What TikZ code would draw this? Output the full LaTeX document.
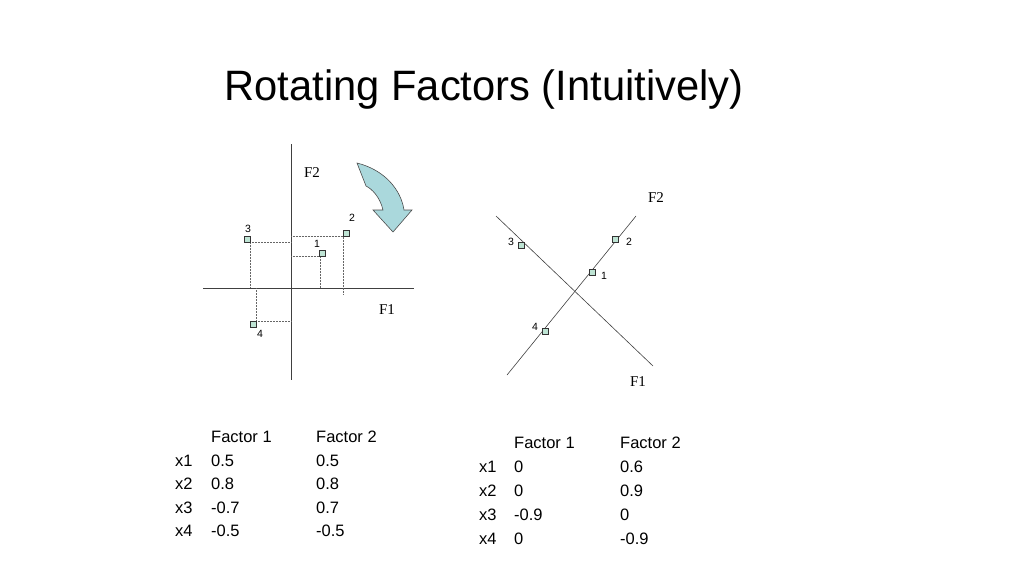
\documentclass[tikz,border=0pt]{standalone}
\usepackage{fontspec}
\setmainfont{Liberation Sans}
\newfontfamily\serf{Liberation Serif}
\definecolor{mint}{RGB}{190,228,212}
\definecolor{arrc}{RGB}{170,216,220}
\begin{document}
\begin{tikzpicture}[x=1pt,y=-1pt,
  pt/.style={draw=black!80,fill=mint,minimum size=6pt,inner sep=0pt,line width=0.6pt},
  ax/.style={draw=black!75,line width=0.8pt},
  dl/.style={draw=black!60,densely dotted,line width=0.5pt},
  num/.style={font=\fontsize{10.5}{12}\selectfont,inner sep=0pt},
  fl/.style={font=\serf\fontsize{15}{18}\selectfont,inner sep=0pt},
  tb/.style={font=\fontsize{16.5}{20}\selectfont,anchor=west,inner sep=0pt}]
\useasboundingbox (0,0) rectangle (1024,576);
\node[font=\fontsize{42.5}{50}\selectfont,inner sep=0pt,xscale=0.98] (title) at (484,90) {Rotating Factors (Intuitively)};
% left plot
\coordinate (vt) at (291,144); \coordinate (vb) at (291,380);
\coordinate (hl) at (203,288); \coordinate (hr) at (414,288);
\draw[ax] (vt)--(vb); \draw[ax] (hl)--(hr);
\coordinate (o1a) at (291,256); \coordinate (o1b) at (320,288);
\coordinate (o2a) at (291,236); \coordinate (o2b) at (343,294);
\coordinate (o3a) at (291,242); \coordinate (o3b) at (250,288);
\coordinate (o4a) at (291,321); \coordinate (o4b) at (256,288);
\draw[dl] (o1a)--(320,256)--(o1b);
\draw[dl] (o2a)--(343,236)--(o2b);
\draw[dl] (o3a)--(250,242)--(o3b);
\draw[dl] (o4a)--(256,321)--(o4b);
\node[pt] (p1) at (322,253) {}; \node[pt] (p2) at (346,233) {};
\node[pt] (p3) at (247,239) {}; \node[pt] (p4) at (253,324) {};
\node[num] (l1) at (317,244) {1}; \node[num] (l2) at (352,218) {2};
\node[num] (l3) at (248,229) {3}; \node[num] (l4) at (260,334) {4};
\node[fl] (f2a) at (312,173) {F2}; \node[fl] (f1a) at (387,310) {F1};
% curved arrow
\draw[draw=black!70,fill=arrc,line width=0.6pt]
 (357,163) .. controls (385,170) and (401,190) .. (404,210)
 -- (412,210) -- (393,232) -- (373,210) -- (383,210)
 .. controls (380,197) and (372,189) .. (366,186) -- cycle;
% right plot
\coordinate (a1) at (496,216); \coordinate (b1) at (653,366);
\coordinate (a2) at (507,375); \coordinate (b2) at (636,216);
\draw[ax,line width=0.6pt] (a1)--(b1); \draw[ax,line width=0.6pt] (a2)--(b2);
\node[pt] (q1) at (592,272) {}; \node[pt] (q2) at (615,239) {};
\node[pt] (q3) at (521,245) {}; \node[pt] (q4) at (545,331) {};
\node[num] (m1) at (604,276) {1}; \node[num] (m2) at (629,242) {2};
\node[num] (m3) at (511,242) {3}; \node[num] (m4) at (535,327) {4};
\node[fl] (f2b) at (656,198) {F2}; \node[fl] (f1b) at (638,382) {F1};
% left table
\foreach \y/\a/\b/\c [count=\i] in {437//Factor 1/Factor 2,461/x1/0.5/0.5,484/x2/0.8/0.8,508/x3/-0.7/0.7,531/x4/-0.5/-0.5}{
  \node[tb] (la\i) at (175,\y) {\a}; \node[tb] (lb\i) at (211,\y) {\b}; \node[tb] (lc\i) at (316,\y) {\c};}
% right table
\foreach \y/\a/\b/\c [count=\i] in {443//Factor 1/Factor 2,467/x1/0/0.6,491/x2/0/0.9,515/x3/-0.9/0,539/x4/0/-0.9}{
  \node[tb] (ra\i) at (479,\y) {\a}; \node[tb] (rb\i) at (514,\y) {\b}; \node[tb] (rc\i) at (620,\y) {\c};}
\end{tikzpicture}
\end{document}
